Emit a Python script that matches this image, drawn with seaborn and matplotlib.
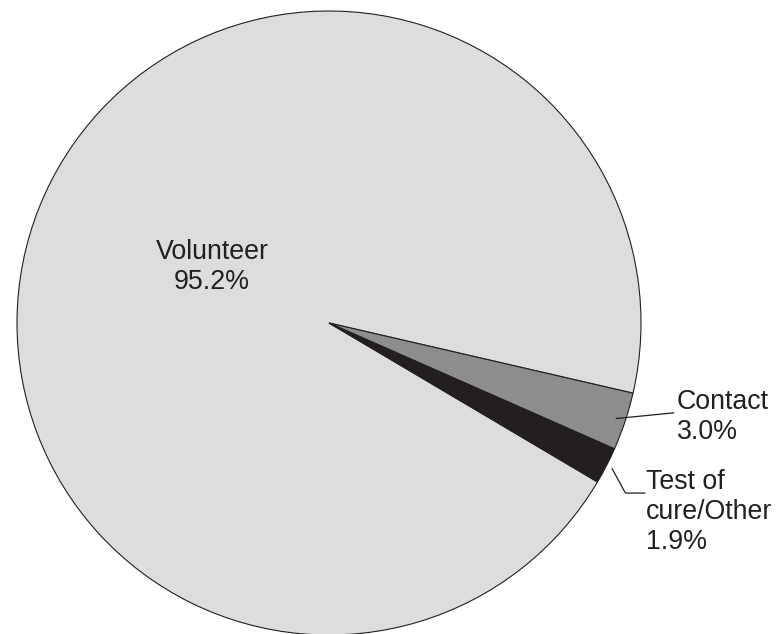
import numpy as np
import matplotlib
matplotlib.use("Agg")
import matplotlib.pyplot as plt
import seaborn as sns

# Données
categories = ["Volunteer", "Contact", "Test of\ncure/Other"]
valeurs = [95.2, 3.0, 1.9]
couleurs = ["#dcdddf", "#8c8d8f", "#231f20"]

sns.set_theme(style="white")
plt.rcParams["font.family"] = ["Liberation Sans", "DejaVu Sans"]

fig = plt.figure(figsize=(7.77, 6.34), dpi=100)
ax = fig.add_axes([17 / 777, -1 / 634, 624 / 777, 624 / 634])

# Le secteur Volunteer se termine à -13° en tournant dans le sens horaire
debut = -13 + valeurs[0] / sum(valeurs) * 360
wedges, _ = ax.pie(valeurs, colors=couleurs, startangle=debut, counterclock=False,
                   wedgeprops=dict(edgecolor="#231f20", linewidth=0.8))
ax.set_xlim(-1, 1)
ax.set_ylim(-1, 1)
ax.set_aspect("equal")
ax.axis("off")

txt = dict(fontsize=19.3, color="#231f20", linespacing=1.2)

# Volunteer : étiquette à l'intérieur
ax.text(-0.375, 0.18, f"{categories[0]}\n{valeurs[0]:.1f}%",
        ha="center", va="center", **txt)

# Contact : ligne de rappel droite
w = wedges[1]
a = np.deg2rad((w.theta1 + w.theta2) / 2)
x0, y0 = 0.97 * np.cos(a), 0.97 * np.sin(a)
ax.plot([x0, 1.105], [y0, -0.288], color="#231f20", lw=0.9, clip_on=False)
ax.text(1.115, -0.30, f"{categories[1]}\n{valeurs[1]:.1f}%", ha="left", va="center", **txt)

# Test of cure/Other : ligne coudée
w = wedges[2]
a = np.deg2rad((w.theta1 + w.theta2) / 2)
x0, y0 = 1.02 * np.cos(a), 1.02 * np.sin(a)
ax.plot([x0, 0.95, 1.013], [y0, -0.545, -0.545], color="#231f20", lw=0.9, clip_on=False)
ax.text(1.015, -0.605, f"{categories[2]}\n{valeurs[2]:.1f}%", ha="left", va="center", **txt)

fig.savefig("out.png", dpi=100, facecolor="white")
